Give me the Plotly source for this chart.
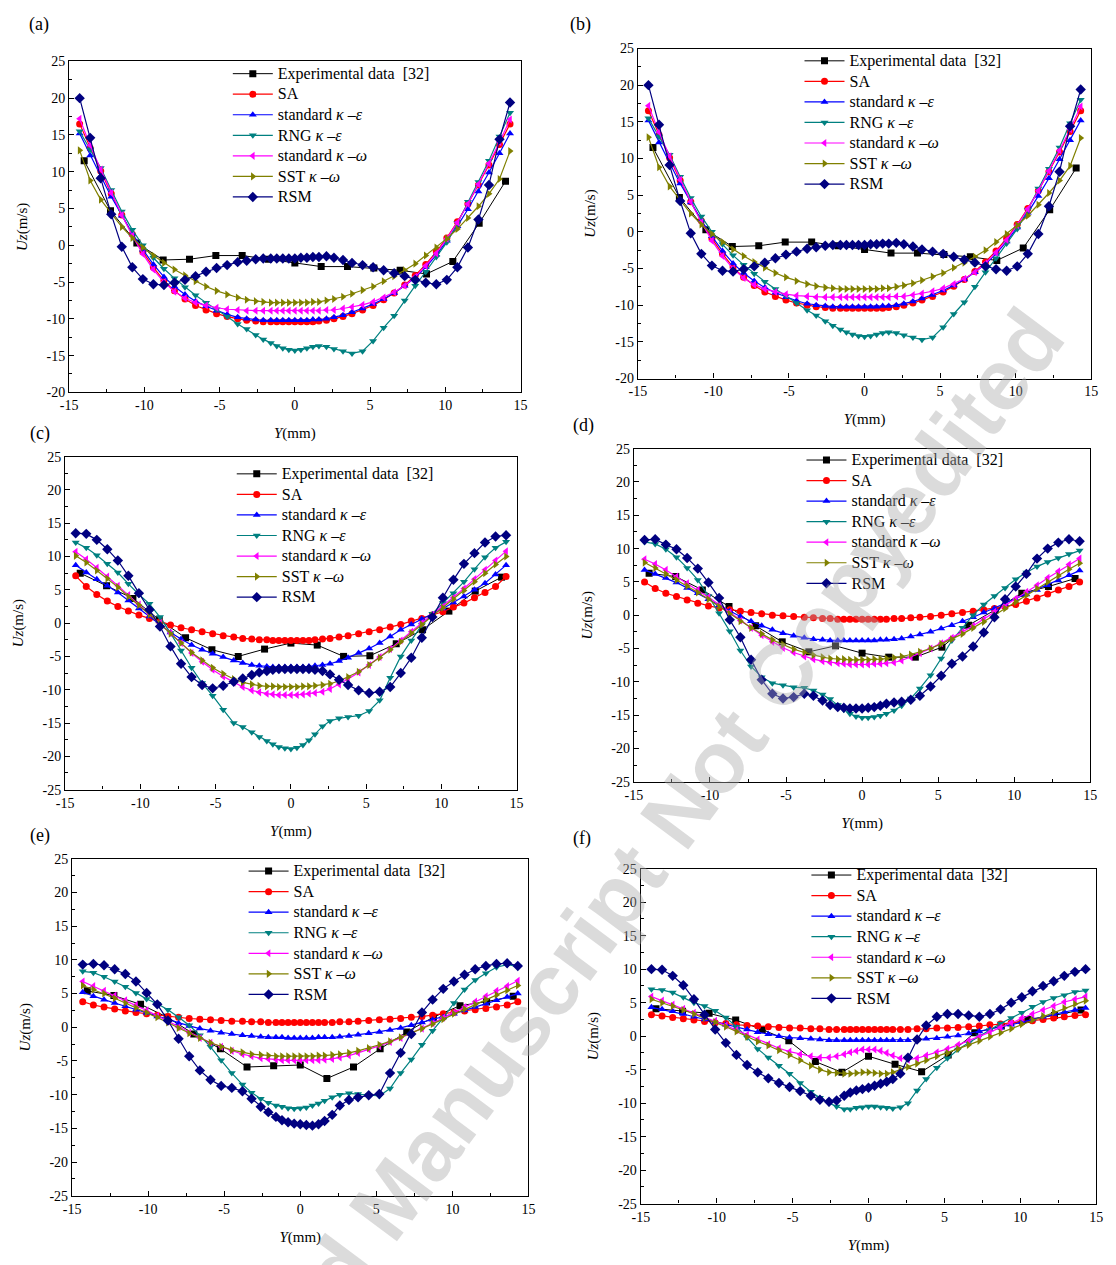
import plotly.graph_objects as go

W, H = 1116, 1265
SERIF = "Liberation Serif, Times New Roman, serif"

# ---------------- data ----------------
X_CFD = [-14.3, -13.6, -12.9, -12.2, -11.5, -10.8, -10.1, -9.4, -8.7, -8.0,
         -7.3, -6.6, -5.9, -5.2, -4.5, -3.8, -3.2, -2.6, -2.1, -1.6,
         -1.2, -0.8, -0.4, 0.0, 0.4, 0.8, 1.2, 1.6, 2.1, 2.6,
         3.2, 3.8, 4.5, 5.2, 5.9, 6.6, 7.3, 8.0, 8.7, 9.4,
         10.1, 10.8, 11.5, 12.2, 12.9, 13.6, 14.3]
X_EXP = [-14.0, -12.25, -10.5, -8.75, -7.0, -5.25, -3.5, -1.75, 0.0,
         1.75, 3.5, 5.25, 7.0, 8.75, 10.5, 12.25, 14.0]

X_TICK_VALS = [-15, -10, -5, 0, 5, 10, 15]
X_TICK_TEXT = ["-15", "-10", "-5", "0", "5", "10", "15"]
Y_TICK_VALS_AB = [-20, -15, -10, -5, 0, 5, 10, 15, 20, 25]
Y_TICK_TEXT_AB = ["-20", "-15", "-10", "-5", "0", "5", "10", "15", "20", "25"]
Y_TICK_VALS_CF = [-25, -20, -15, -10, -5, 0, 5, 10, 15, 20, 25]
Y_TICK_TEXT_CF = ["-25", "-20", "-15", "-10", "-5", "0", "5", "10", "15", "20", "25"]

SERIES_NAMES = ["Experimental data  [32]", "SA", "standard <i>κ</i> –<i>ε</i>",
                "RNG <i>κ</i> –<i>ε</i>", "standard <i>κ</i> –<i>ω</i>",
                "SST <i>κ</i> –<i>ω</i>", "RSM"]

# panel (a) and (b) show the same profiles
EXP_AB = [11.5, 4.7, 0.3, -2.0, -1.9, -1.4, -1.4, -1.9, -2.4, -2.9, -2.9, -3.1, -3.4, -3.9, -2.2, 3.0, 8.7]
SA_AB = [16.5, 13.2, 10.1, 7.0, 4.1, 1.5, -0.9, -3.0, -4.8, -6.2,
         -7.3, -8.2, -8.8, -9.3, -9.7, -10.0, -10.2, -10.3, -10.4, -10.4,
         -10.4, -10.4, -10.4, -10.4, -10.4, -10.4, -10.4, -10.3, -10.2, -10.0,
         -9.7, -9.3, -8.8, -8.2, -7.4, -6.5, -5.4, -4.1, -2.6, -0.9,
         1.0, 3.2, 5.6, 8.2, 10.9, 13.7, 16.5]
SKE_AB = [15.2, 12.2, 9.4, 6.6, 4.0, 1.6, -0.6, -2.6, -4.3, -5.6,
          -6.7, -7.6, -8.3, -8.9, -9.4, -9.8, -10.0, -10.1, -10.2, -10.2,
          -10.2, -10.2, -10.2, -10.2, -10.2, -10.2, -10.1, -10.1, -10.0, -9.8,
          -9.5, -9.1, -8.6, -8.0, -7.3, -6.5, -5.5, -4.4, -3.0, -1.3,
          0.6, 2.6, 4.9, 7.3, 9.9, 12.5, 15.2]
RNG_AB = [15.5, 13.0, 10.5, 7.5, 4.6, 2.1, 0.0, -1.7, -3.2, -4.5,
          -5.7, -6.8, -7.8, -8.7, -9.7, -10.7, -11.4, -12.2, -12.8, -13.3,
          -13.7, -14.0, -14.2, -14.3, -14.2, -14.0, -13.8, -13.7, -13.8, -14.1,
          -14.4, -14.7, -14.4, -13.0, -11.2, -9.6, -7.5, -5.5, -3.6, -1.6,
          0.4, 3.0, 5.9, 8.6, 11.5, 14.8, 18.0]
SKW_AB = [17.2, 13.6, 10.3, 7.1, 4.1, 1.3, -1.2, -3.3, -5.0, -6.3,
          -7.2, -7.8, -8.2, -8.5, -8.7, -8.8, -8.9, -8.9, -8.9, -8.9,
          -8.9, -8.9, -8.9, -8.9, -8.9, -8.9, -8.9, -8.9, -8.8, -8.8,
          -8.6, -8.4, -8.1, -7.7, -7.1, -6.4, -5.5, -4.3, -2.8, -1.1,
          0.9, 3.1, 5.6, 8.3, 11.1, 14.0, 17.1]
SST_AB = [12.9, 8.8, 6.2, 4.3, 2.5, 1.0, -0.3, -1.4, -2.4, -3.3,
          -4.1, -4.9, -5.6, -6.2, -6.7, -7.1, -7.4, -7.6, -7.7, -7.8,
          -7.8, -7.8, -7.8, -7.8, -7.8, -7.8, -7.7, -7.7, -7.5, -7.3,
          -7.0, -6.6, -6.1, -5.6, -4.9, -4.2, -3.4, -2.5, -1.4, -0.3,
          0.9, 2.2, 3.7, 5.3, 7.0, 9.0, 12.8]
RSM_AB = [20.0, 14.6, 9.1, 4.2, -0.2, -3.0, -4.6, -5.3, -5.4, -5.1,
          -4.7, -4.2, -3.6, -3.1, -2.7, -2.3, -2.1, -1.9, -1.8, -1.8,
          -1.8, -1.8, -1.8, -1.8, -1.7, -1.7, -1.6, -1.6, -1.5, -1.7,
          -2.0, -2.4, -2.7, -3.0, -3.4, -3.8, -4.2, -4.7, -5.1, -5.3,
          -4.7, -3.0, -0.3, 3.5, 8.2, 14.4, 19.4]

# panel (c)
EXP_C = [7.5, 5.6, 3.7, 0.5, -2.2, -4.0, -5.0, -3.9, -3.0, -3.3, -5.0, -4.9, -3.1, -1.0, 1.8, 4.8, 6.9]
SA_C = [7.1, 5.5, 4.3, 3.3, 2.5, 1.8, 1.2, 0.7, 0.2, -0.3,
        -0.7, -1.0, -1.3, -1.6, -1.9, -2.1, -2.3, -2.4, -2.5, -2.5,
        -2.6, -2.6, -2.6, -2.6, -2.6, -2.6, -2.6, -2.5, -2.4, -2.3,
        -2.1, -1.9, -1.6, -1.3, -1.0, -0.6, -0.2, 0.3, 0.7, 1.2,
        1.7, 2.4, 3.0, 3.8, 4.6, 5.5, 7.0]
SKE_C = [8.7, 7.6, 6.6, 5.6, 4.6, 3.4, 2.2, 1.0, -0.2, -1.4,
         -2.4, -3.3, -4.0, -4.6, -5.1, -5.6, -6.0, -6.3, -6.4, -6.5,
         -6.6, -6.6, -6.6, -6.6, -6.6, -6.6, -6.5, -6.4, -6.3, -6.1,
         -5.7, -5.2, -4.5, -3.8, -3.0, -2.0, -1.0, -0.2, 0.6, 1.3,
         2.2, 3.1, 4.0, 5.0, 6.0, 7.3, 8.7]
RNG_C = [12.1, 11.3, 10.2, 8.9, 7.6, 5.9, 4.3, 2.9, 0.9, -1.5,
         -4.1, -6.7, -9.0, -10.9, -13.0, -15.0, -15.6, -16.4, -17.1, -17.7,
         -18.2, -18.6, -18.8, -18.9, -18.7, -18.3, -17.6, -16.7, -15.5, -14.7,
         -14.3, -14.1, -13.9, -13.2, -11.6, -8.2, -5.0, -2.6, -0.3, 1.4,
         3.0, 4.5, 6.2, 8.1, 9.9, 11.3, 12.2]
SKW_C = [10.7, 9.6, 8.3, 7.0, 5.6, 4.2, 2.8, 1.4, 0.0, -1.5,
         -3.0, -4.5, -5.8, -7.0, -8.0, -8.9, -9.6, -10.1, -10.4, -10.6,
         -10.7, -10.8, -10.8, -10.8, -10.8, -10.7, -10.6, -10.5, -10.3, -9.9,
         -9.2, -8.4, -7.4, -6.3, -5.1, -3.9, -2.6, -1.3, 0.0, 1.2,
         2.5, 3.8, 5.2, 6.6, 8.0, 9.4, 10.8]
SST_C = [10.1, 9.1, 7.9, 6.7, 5.4, 4.0, 2.7, 1.3, -0.1, -1.6,
         -3.0, -4.4, -5.6, -6.7, -7.6, -8.4, -8.9, -9.2, -9.4, -9.5,
         -9.5, -9.6, -9.6, -9.6, -9.6, -9.5, -9.5, -9.4, -9.3, -9.1,
         -8.7, -8.1, -7.3, -6.3, -5.2, -4.0, -2.8, -1.5, -0.2, 1.1,
         2.3, 3.6, 4.9, 6.2, 7.5, 8.8, 10.0]
RSM_C = [13.5, 13.4, 12.5, 11.1, 9.4, 7.1, 4.5, 2.0, -0.5, -3.5,
         -6.1, -8.1, -9.3, -9.8, -9.4, -8.8, -8.3, -7.8, -7.4, -7.2,
         -7.0, -6.9, -6.9, -6.9, -6.9, -6.9, -6.9, -7.0, -7.2, -7.7,
         -8.5, -9.3, -10.1, -10.5, -10.3, -9.6, -7.5, -5.2, -2.2, 0.9,
         3.8, 6.5, 8.9, 10.5, 12.1, 13.0, 13.2]

# panel (d)
EXP_D = [6.3, 5.8, 3.8, 1.3, -1.6, -4.0, -5.5, -4.6, -5.7, -6.3, -6.3, -4.8, -1.5, 0.8, 3.3, 4.3, 5.5]
SA_D = [5.0, 4.0, 3.3, 2.8, 2.3, 1.8, 1.4, 1.1, 0.8, 0.6,
        0.4, 0.2, 0.0, -0.1, -0.2, -0.3, -0.4, -0.5, -0.5, -0.6,
        -0.6, -0.6, -0.6, -0.6, -0.6, -0.6, -0.6, -0.6, -0.5, -0.5,
        -0.4, -0.3, -0.2, 0.0, 0.2, 0.4, 0.6, 0.8, 1.0, 1.3,
        1.6, 2.1, 2.6, 3.2, 3.8, 4.3, 5.0]
SKE_D = [6.8, 6.2, 5.6, 4.9, 4.1, 3.3, 2.4, 1.5, 0.6, -0.2,
         -0.9, -1.6, -2.2, -2.7, -3.1, -3.4, -3.6, -3.7, -3.8, -3.8,
         -3.8, -3.8, -3.8, -3.8, -3.8, -3.8, -3.7, -3.7, -3.6, -3.5,
         -3.2, -2.9, -2.5, -2.0, -1.5, -0.9, -0.3, 0.4, 1.0, 1.7,
         2.4, 3.1, 3.8, 4.5, 5.2, 6.0, 6.7]
RNG_D = [11.0, 10.7, 9.9, 8.7, 7.1, 5.3, 2.9, 0.3, -2.4, -5.3,
         -7.7, -9.3, -10.2, -10.5, -10.8, -10.9, -11.3, -11.9, -12.6, -13.5,
         -14.2, -14.8, -15.2, -15.4, -15.4, -15.3, -15.1, -14.8, -14.3, -13.6,
         -12.5, -11.0, -9.0, -6.5, -3.8, -1.9, 0.0, 1.6, 2.9, 4.1,
         5.4, 6.4, 7.3, 8.0, 8.6, 9.2, 9.7]
SKW_D = [8.4, 7.7, 6.8, 5.8, 4.8, 3.8, 2.7, 1.6, 0.4, -0.8,
         -1.9, -3.0, -4.0, -4.9, -5.6, -6.2, -6.6, -6.9, -7.1, -7.2,
         -7.3, -7.4, -7.4, -7.4, -7.4, -7.3, -7.3, -7.2, -7.1, -6.8,
         -6.3, -5.7, -5.0, -4.2, -3.4, -2.5, -1.6, -0.6, 0.5, 1.5,
         2.5, 3.5, 4.5, 5.6, 6.6, 7.6, 8.5]
SST_D = [7.9, 7.1, 6.2, 5.3, 4.4, 3.4, 2.4, 1.3, 0.2, -0.9,
         -1.9, -2.8, -3.7, -4.4, -5.1, -5.6, -6.0, -6.3, -6.5, -6.6,
         -6.6, -6.7, -6.7, -6.7, -6.7, -6.6, -6.6, -6.5, -6.4, -6.2,
         -5.9, -5.5, -5.0, -4.3, -3.6, -2.8, -1.9, -1.0, 0.0, 1.0,
         2.0, 3.0, 4.0, 5.0, 5.9, 6.9, 7.8]
RSM_D = [11.3, 11.4, 10.6, 9.9, 8.6, 7.0, 4.9, 2.6, -0.7, -3.3,
         -6.7, -9.7, -11.8, -12.5, -12.3, -11.8, -12.1, -12.8, -13.5, -13.8,
         -13.9, -14.0, -14.0, -14.0, -13.9, -13.8, -13.6, -13.3, -13.1, -13.0,
         -12.7, -12.1, -10.7, -9.1, -7.3, -6.2, -4.7, -2.6, -0.3, 2.4,
         4.3, 6.2, 8.5, 10.0, 10.9, 11.4, 11.1]

# panel (e)
EXP_E = [5.4, 4.7, 3.4, 1.5, -1.0, -3.2, -5.9, -5.7, -5.6, -7.6, -5.9, -3.2, -0.7, 1.5, 3.2, 3.8, 4.6]
SA_E = [3.8, 3.3, 3.0, 2.7, 2.4, 2.2, 2.0, 1.8, 1.6, 1.5,
        1.3, 1.2, 1.1, 1.0, 0.9, 0.9, 0.8, 0.8, 0.7, 0.7,
        0.7, 0.7, 0.7, 0.7, 0.7, 0.7, 0.7, 0.7, 0.7, 0.8,
        0.8, 0.9, 1.0, 1.1, 1.2, 1.3, 1.5, 1.6, 1.8, 2.0,
        2.2, 2.4, 2.6, 2.8, 3.0, 3.3, 3.8]
SKE_E = [5.2, 4.6, 4.1, 3.6, 3.1, 2.6, 2.1, 1.6, 1.1, 0.6,
         0.2, -0.2, -0.5, -0.8, -1.0, -1.2, -1.3, -1.4, -1.5, -1.5,
         -1.5, -1.6, -1.6, -1.6, -1.6, -1.6, -1.5, -1.5, -1.5, -1.4,
         -1.3, -1.1, -0.9, -0.7, -0.4, -0.1, 0.3, 0.7, 1.1, 1.5,
         2.0, 2.5, 3.0, 3.5, 4.0, 4.5, 5.0]
RNG_E = [8.3, 8.1, 7.5, 6.8, 6.0, 5.1, 4.2, 3.5, 2.6, 1.5,
         0.3, -1.2, -2.9, -4.9, -6.8, -8.5, -9.7, -10.6, -11.2, -11.6,
         -11.8, -12.0, -12.1, -12.0, -11.9, -11.6, -11.3, -10.9, -10.4, -10.0,
         -9.8, -9.9, -10.1, -10.2, -9.1, -6.8, -4.8, -2.6, -0.5, 1.4,
         3.6, 5.6, 7.0, 8.0, 8.9, 9.3, 9.0]
SKW_E = [6.8, 6.1, 5.4, 4.7, 4.0, 3.3, 2.5, 1.7, 0.9, 0.0,
         -0.8, -1.6, -2.3, -2.9, -3.5, -4.0, -4.3, -4.6, -4.7, -4.8,
         -4.9, -4.9, -4.9, -4.9, -4.9, -4.9, -4.9, -4.8, -4.7, -4.5,
         -4.2, -3.8, -3.3, -2.8, -2.2, -1.6, -0.9, -0.2, 0.6, 1.4,
         2.2, 3.0, 3.8, 4.6, 5.4, 6.1, 6.9]
SST_E = [6.2, 5.6, 5.0, 4.3, 3.6, 2.9, 2.2, 1.5, 0.7, -0.1,
         -0.9, -1.6, -2.3, -2.9, -3.4, -3.7, -4.0, -4.1, -4.2, -4.3,
         -4.3, -4.3, -4.3, -4.3, -4.3, -4.3, -4.2, -4.2, -4.1, -4.0,
         -3.8, -3.5, -3.1, -2.6, -2.1, -1.5, -0.9, -0.2, 0.5, 1.2,
         2.0, 2.7, 3.4, 4.1, 4.8, 5.5, 6.2]
RSM_E = [9.3, 9.4, 9.2, 8.6, 7.9, 6.8, 5.1, 3.4, 1.0, -1.7,
         -4.3, -6.4, -7.8, -8.7, -9.0, -9.5, -10.6, -11.8, -12.6, -13.3,
         -13.8, -14.1, -14.3, -14.4, -14.5, -14.6, -14.4, -13.9, -13.0, -11.6,
         -10.8, -10.4, -10.1, -9.9, -6.8, -3.8, -1.0, 2.2, 4.1, 5.7,
         6.8, 7.8, 8.6, 9.1, 9.4, 9.5, 9.1]

# panel (f)
EXP_F = [4.1, 3.7, 3.4, 2.4, 1.0, -0.7, -3.8, -5.4, -3.0, -4.2, -5.3, -2.8, 0.5, 1.5, 2.5, 3.1, 3.9]
SA_F = [3.2, 3.0, 2.8, 2.6, 2.4, 2.2, 2.0, 1.9, 1.7, 1.6,
        1.5, 1.4, 1.3, 1.2, 1.2, 1.1, 1.1, 1.0, 1.0, 1.0,
        1.0, 1.0, 1.0, 1.0, 1.0, 1.0, 1.0, 1.0, 1.0, 1.0,
        1.1, 1.1, 1.2, 1.2, 1.3, 1.4, 1.5, 1.7, 1.8, 2.0,
        2.1, 2.3, 2.5, 2.7, 2.9, 3.1, 3.2]
SKE_F = [4.3, 4.0, 3.7, 3.3, 2.9, 2.5, 2.1, 1.7, 1.3, 1.0,
         0.6, 0.3, 0.0, -0.2, -0.3, -0.4, -0.5, -0.6, -0.6, -0.6,
         -0.6, -0.6, -0.6, -0.6, -0.6, -0.6, -0.6, -0.6, -0.6, -0.6,
         -0.5, -0.4, -0.3, -0.1, 0.1, 0.4, 0.7, 1.0, 1.3, 1.7,
         2.1, 2.5, 2.9, 3.3, 3.6, 3.9, 4.2]
RNG_F = [7.0, 6.9, 6.5, 5.8, 5.0, 4.5, 3.8, 2.8, 1.4, -0.2,
         -1.9, -3.2, -4.4, -5.6, -7.0, -8.3, -9.2, -10.0, -10.5, -10.9,
         -10.9, -10.7, -10.6, -10.5, -10.5, -10.6, -10.7, -10.8, -10.6, -10.0,
         -8.1, -6.4, -4.7, -3.3, -2.0, -1.0, 0.0, 0.9, 1.9, 2.7,
         3.5, 4.4, 5.1, 5.7, 6.1, 6.6, 6.8]
SKW_F = [5.9, 5.3, 4.7, 4.1, 3.5, 2.9, 2.3, 1.6, 0.9, 0.2,
         -0.5, -1.2, -1.8, -2.3, -2.7, -3.0, -3.2, -3.2, -3.0, -2.7,
         -2.4, -2.2, -2.0, -2.0, -2.0, -2.2, -2.5, -2.9, -3.3, -3.5,
         -3.3, -2.9, -2.4, -1.9, -1.3, -0.7, -0.1, 0.6, 1.3, 2.0,
         2.7, 3.3, 3.9, 4.5, 5.1, 5.5, 5.9]
SST_F = [5.5, 5.0, 4.5, 3.9, 3.3, 2.7, 2.1, 1.4, 0.7, -0.1,
         -0.8, -1.4, -2.1, -2.8, -3.6, -4.4, -5.0, -5.4, -5.5, -5.6,
         -5.6, -5.5, -5.4, -5.4, -5.5, -5.6, -5.6, -5.4, -5.0, -4.6,
         -4.1, -3.6, -3.0, -2.5, -1.9, -1.3, -0.7, -0.1, 0.5, 1.1,
         1.8, 2.4, 3.0, 3.6, 4.2, 4.8, 5.3]
RSM_F = [10.0, 9.9, 9.0, 7.6, 5.5, 3.2, 1.0, -1.0, -2.8, -4.3,
         -5.4, -6.3, -7.0, -7.6, -8.2, -8.9, -9.5, -9.8, -9.6, -8.9,
         -8.4, -8.1, -7.9, -7.7, -7.4, -7.1, -6.8, -6.4, -5.6, -3.2,
         -0.5, 1.6, 2.9, 3.3, 3.3, 3.1, 2.9, 3.3, 4.0, 5.0,
         5.8, 6.7, 7.5, 8.2, 9.0, 9.6, 10.0]

PANEL_DATA = [
    [EXP_AB, SA_AB, SKE_AB, RNG_AB, SKW_AB, SST_AB, RSM_AB],
    [EXP_AB, SA_AB, SKE_AB, RNG_AB, SKW_AB, SST_AB, RSM_AB],
    [EXP_C, SA_C, SKE_C, RNG_C, SKW_C, SST_C, RSM_C],
    [EXP_D, SA_D, SKE_D, RNG_D, SKW_D, SST_D, RSM_D],
    [EXP_E, SA_E, SKE_E, RNG_E, SKW_E, SST_E, RSM_E],
    [EXP_F, SA_F, SKE_F, RNG_F, SKW_F, SST_F, RSM_F],
]
PANEL_LABELS = ["(a)", "(b)", "(c)", "(d)", "(e)", "(f)"]
WATERMARK = "Accepted Manuscript Not Copyedited"

# ---------------- styles / layout ----------------
COLORS = ["#000000", "#FF0000", "#0000FF", "#008080", "#FF00FF", "#808000", "#000080"]
SYMBOLS = ["square", "circle", "triangle-up", "triangle-down",
           "triangle-left", "triangle-right", "diamond"]
MSIZE = [7, 7, 7, 7, 7, 7, 8]

# frame boxes in pixels: (left, right, top, bottom)
BOXES = [(61, 519, 55, 390), (638, 1098, 42, 376),
         (57, 515, 455, 792), (634, 1097, 447, 784),
         (64, 527, 862, 1203), (641, 1103, 872, 1211)]
YRANGES = [(-20, 25), (-20, 25), (-25, 25), (-25, 25), (-25, 25), (-25, 25)]
LEGEND_POS = [(230, 64), (810, 51), (234, 469), (812, 455), (246, 871), (817, 875)]
LABEL_POS = [(30, 18), (580, 18), (31, 432), (583, 424), (31, 838), (581, 841)]

fig = go.Figure()
layout = dict(
    width=W, height=H, margin=dict(l=0, r=0, t=0, b=0),
    paper_bgcolor="white", plot_bgcolor="white",
    font=dict(family=SERIF, color="black", size=14),
    annotations=[],
)

for i in range(6):
    n = i + 1
    sfx = "" if n == 1 else str(n)
    leg = "legend" + sfx
    for s in range(7):
        xs = X_EXP if s == 0 else X_CFD
        fig.add_trace(go.Scatter(
            x=xs, y=PANEL_DATA[i][s], mode="lines+markers",
            name=f'<span style="font-size:16px">{SERIES_NAMES[s]}</span>',
            line=dict(color=COLORS[s], width=1.2 if s else 1.0),
            marker=dict(symbol=SYMBOLS[s], size=MSIZE[s], color=COLORS[s]),
            xaxis="x" + sfx, yaxis="y" + sfx, legend=leg, showlegend=True,
        ))
    l, r, t, b = BOXES[i]
    y0, y1 = YRANGES[i]
    yvals = Y_TICK_VALS_AB if i < 2 else Y_TICK_VALS_CF
    ytext = Y_TICK_TEXT_AB if i < 2 else Y_TICK_TEXT_CF
    yminor = [v + 2.5 for v in yvals[:-1]]
    xminor = [v + 2.5 for v in X_TICK_VALS[:-1]]
    axis_common = dict(showline=True, linecolor="black", linewidth=1.3, mirror=True,
                       showgrid=False, zeroline=False, ticks="inside", ticklen=5,
                       tickwidth=1, tickcolor="black",
                       tickfont=dict(family=SERIF, size=14, color="black"))
    layout["xaxis" + sfx] = dict(
        axis_common, domain=[l / W, r / W], range=[-15, 15], anchor="y" + sfx,
        tickmode="array", tickvals=X_TICK_VALS, ticktext=X_TICK_TEXT,
        minor=dict(tickmode="array", tickvals=xminor, ticks="inside", ticklen=3,
                   tickcolor="black", showgrid=False),
        title=dict(text="<i>Y</i>(mm)", font=dict(family=SERIF, size=15), standoff=15),
    )
    layout["yaxis" + sfx] = dict(
        axis_common, domain=[1 - b / H, 1 - t / H], range=[y0, y1], anchor="x" + sfx,
        tickmode="array", tickvals=yvals, ticktext=ytext,
        minor=dict(tickmode="array", tickvals=yminor, ticks="inside", ticklen=3,
                   tickcolor="black", showgrid=False),
        title=dict(text="<i>Uz</i>(m/s)", font=dict(family=SERIF, size=15), standoff=15),
    )
    lx, ly = LEGEND_POS[i]
    layout[leg] = dict(
        x=(lx - 8) / W, y=1 - (ly - 12) / H, xanchor="left", yanchor="top",
        bgcolor="rgba(0,0,0,0)", borderwidth=0, itemwidth=40, tracegroupgap=0,
        font=dict(family=SERIF, size=13.5, color="black"),
    )
    px, py = LABEL_POS[i]
    layout["annotations"].append(dict(
        text=PANEL_LABELS[i], x=px / W, y=1 - py / H, xref="paper", yref="paper",
        showarrow=False, xanchor="center", yanchor="middle",
        font=dict(family=SERIF, size=18, color="black"),
    ))

# watermark (partly runs off the lower edge, as in the source page)
layout["annotations"].append(dict(
    text=f"<b>{WATERMARK}</b>", x=582 / W, y=1 - 945 / H,
    xref="paper", yref="paper", showarrow=False, textangle=-53.4,
    xanchor="center", yanchor="middle",
    font=dict(family="Liberation Sans, Arial, sans-serif", size=87,
              color="rgba(170,170,170,0.42)"),
))

fig.update_layout(**layout)
fig.write_html("out.html")
